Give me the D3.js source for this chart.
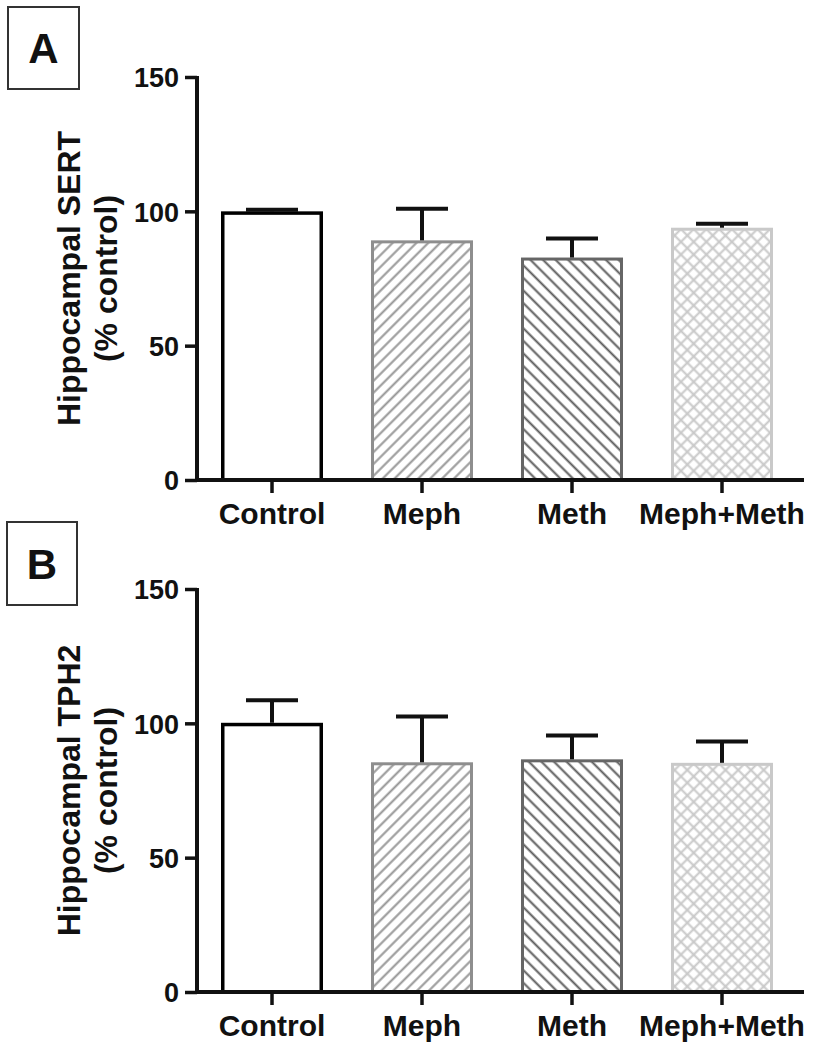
<!DOCTYPE html>
<html><head><meta charset="utf-8">
<script src="https://cdn.jsdelivr.net/npm/d3@7"></script>
<style>
body{margin:0;background:#fff;}
text{font-family:"Liberation Sans",Arial,sans-serif;font-weight:bold;fill:#111;}
</style></head>
<body>
<svg id="chart" width="819" height="1050"></svg>
<script>
const categories = ["Control", "Meph", "Meth", "Meph+Meth"];
const sertMeans = [100, 89.2, 82.8, 93.9];
const sertErrors = [0.6, 11.8, 7.1, 1.5];
const tph2Means = [100.2, 85.5, 86.6, 85.3];
const tph2Errors = [8.4, 17.0, 8.9, 7.9];
const yTicks = [0, 50, 100, 150];
const panels = [
  {letter: "A", title: "Hippocampal SERT", means: sertMeans, errs: sertErrors},
  {letter: "B", title: "Hippocampal TPH2", means: tph2Means, errs: tph2Errors}
];

const svg = d3.select("#chart");
const defs = svg.append("defs");

function hatch(id, angle, spacing, color, width, cross) {
  const p = defs.append("pattern").attr("id", id)
    .attr("patternUnits", "userSpaceOnUse")
    .attr("width", spacing).attr("height", spacing)
    .attr("patternTransform", `rotate(${angle})`);
  p.append("rect").attr("width", spacing).attr("height", spacing).attr("fill", "#fff");
  p.append("line").attr("x1", spacing/2).attr("x2", spacing/2).attr("y1", 0).attr("y2", spacing)
    .attr("stroke", color).attr("stroke-width", width);
  if (cross) {
    p.append("line").attr("y1", spacing/2).attr("y2", spacing/2).attr("x1", 0).attr("x2", spacing)
      .attr("stroke", color).attr("stroke-width", width);
  }
}
hatch("pMeph", 45, 8.4, "#959595", 2, false);
hatch("pMeth", -45, 8.9, "#5a5a5a", 2, false);
hatch("pCombo", 45, 9.0, "#c8c8c8", 2, true);

const styles = [
  {fill: "#fff", stroke: "#000", sw: 3.5},
  {fill: "url(#pMeph)", stroke: "#8e8e8e", sw: 3},
  {fill: "url(#pMeth)", stroke: "#666", sw: 3},
  {fill: "url(#pCombo)", stroke: "#c9c9c9", sw: 3}
];

const layout = [
  {top: 77, bottom: 480, box: [8, 7, 71, 82]},
  {top: 589, bottom: 992, box: [7, 522, 70, 83]}
];
const axisX = 197;

panels.forEach((pn, i) => {
  const L = layout[i];
  const g = svg.append("g");
  const y = d3.scaleLinear().domain([0, 150]).range([L.bottom, L.top]);
  const x = d3.scaleBand().domain(categories).range([axisX - 1, 798])
    .paddingInner(0.32).paddingOuter(0.1667);

  // letter box
  g.append("rect").attr("x", L.box[0]).attr("y", L.box[1])
    .attr("width", L.box[2]).attr("height", L.box[3])
    .attr("fill", "none").attr("stroke", "#333").attr("stroke-width", 2);
  g.append("text").attr("x", L.box[0] + L.box[2]/2).attr("y", L.box[1] + L.box[3]/2 + 15)
    .attr("text-anchor", "middle").attr("font-size", 42).text(pn.letter);

  // bars
  g.selectAll("rect.bar").data(pn.means).join("rect").attr("class", "bar")
    .attr("x", (d, j) => x(categories[j]) + styles[j].sw/2)
    .attr("width", (d, j) => x.bandwidth() - styles[j].sw)
    .attr("y", (d, j) => y(d) + styles[j].sw/2)
    .attr("height", (d, j) => y(0) - y(d) - styles[j].sw/2)
    .attr("fill", (d, j) => styles[j].fill)
    .attr("stroke", (d, j) => styles[j].stroke)
    .attr("stroke-width", (d, j) => styles[j].sw);

  // error bars
  const cx = j => x(categories[j]) + x.bandwidth()/2;
  const capW = 52;
  pn.means.forEach((m, j) => {
    const top = y(m + pn.errs[j]);
    g.append("line").attr("x1", cx(j)).attr("x2", cx(j))
      .attr("y1", y(m)).attr("y2", top)
      .attr("stroke", "#111").attr("stroke-width", 4);
    g.append("line").attr("x1", cx(j) - capW/2).attr("x2", cx(j) + capW/2)
      .attr("y1", top).attr("y2", top)
      .attr("stroke", "#111").attr("stroke-width", 4);
  });

  // y axis
  const ya = g.append("g").attr("transform", `translate(${axisX},0)`)
    .call(d3.axisLeft(y).tickValues(yTicks).tickSize(12).tickPadding(6).tickFormat(d3.format("d")));
  ya.select(".domain").attr("stroke", "#111").attr("stroke-width", 4)
    .attr("d", `M0,${L.top - 1}V${L.bottom + 2}`);
  ya.selectAll(".tick line").attr("stroke", "#111").attr("stroke-width", 3.5);
  ya.selectAll(".tick text").attr("font-size", 27).attr("dy", "0.36em")
    .style("font-family", '"Liberation Sans",Arial,sans-serif').style("font-weight", "bold").attr("fill", "#111");

  // x axis
  const xa = g.append("g").attr("transform", `translate(0,${L.bottom})`)
    .call(d3.axisBottom(x).tickSize(13).tickPadding(8));
  xa.select(".domain").attr("stroke", "#111").attr("stroke-width", 4)
    .attr("d", `M${axisX - 2},0H804`);
  xa.selectAll(".tick line").attr("stroke", "#111").attr("stroke-width", 3.5);
  xa.selectAll(".tick text").attr("font-size", 30).attr("dy", "0.75em")
    .style("font-family", '"Liberation Sans",Arial,sans-serif').style("font-weight", "bold").attr("fill", "#111");

  // y label
  const yc = (L.top + L.bottom) / 2;
  const lab = g.append("text").attr("transform", `translate(80,${yc}) rotate(-90)`)
    .attr("text-anchor", "middle").attr("font-size", 32);
  lab.append("tspan").attr("x", 0).attr("y", 0).text(pn.title);
  lab.append("tspan").attr("x", 0).attr("y", 37).text("(% control)");
});
</script>
</body></html>
